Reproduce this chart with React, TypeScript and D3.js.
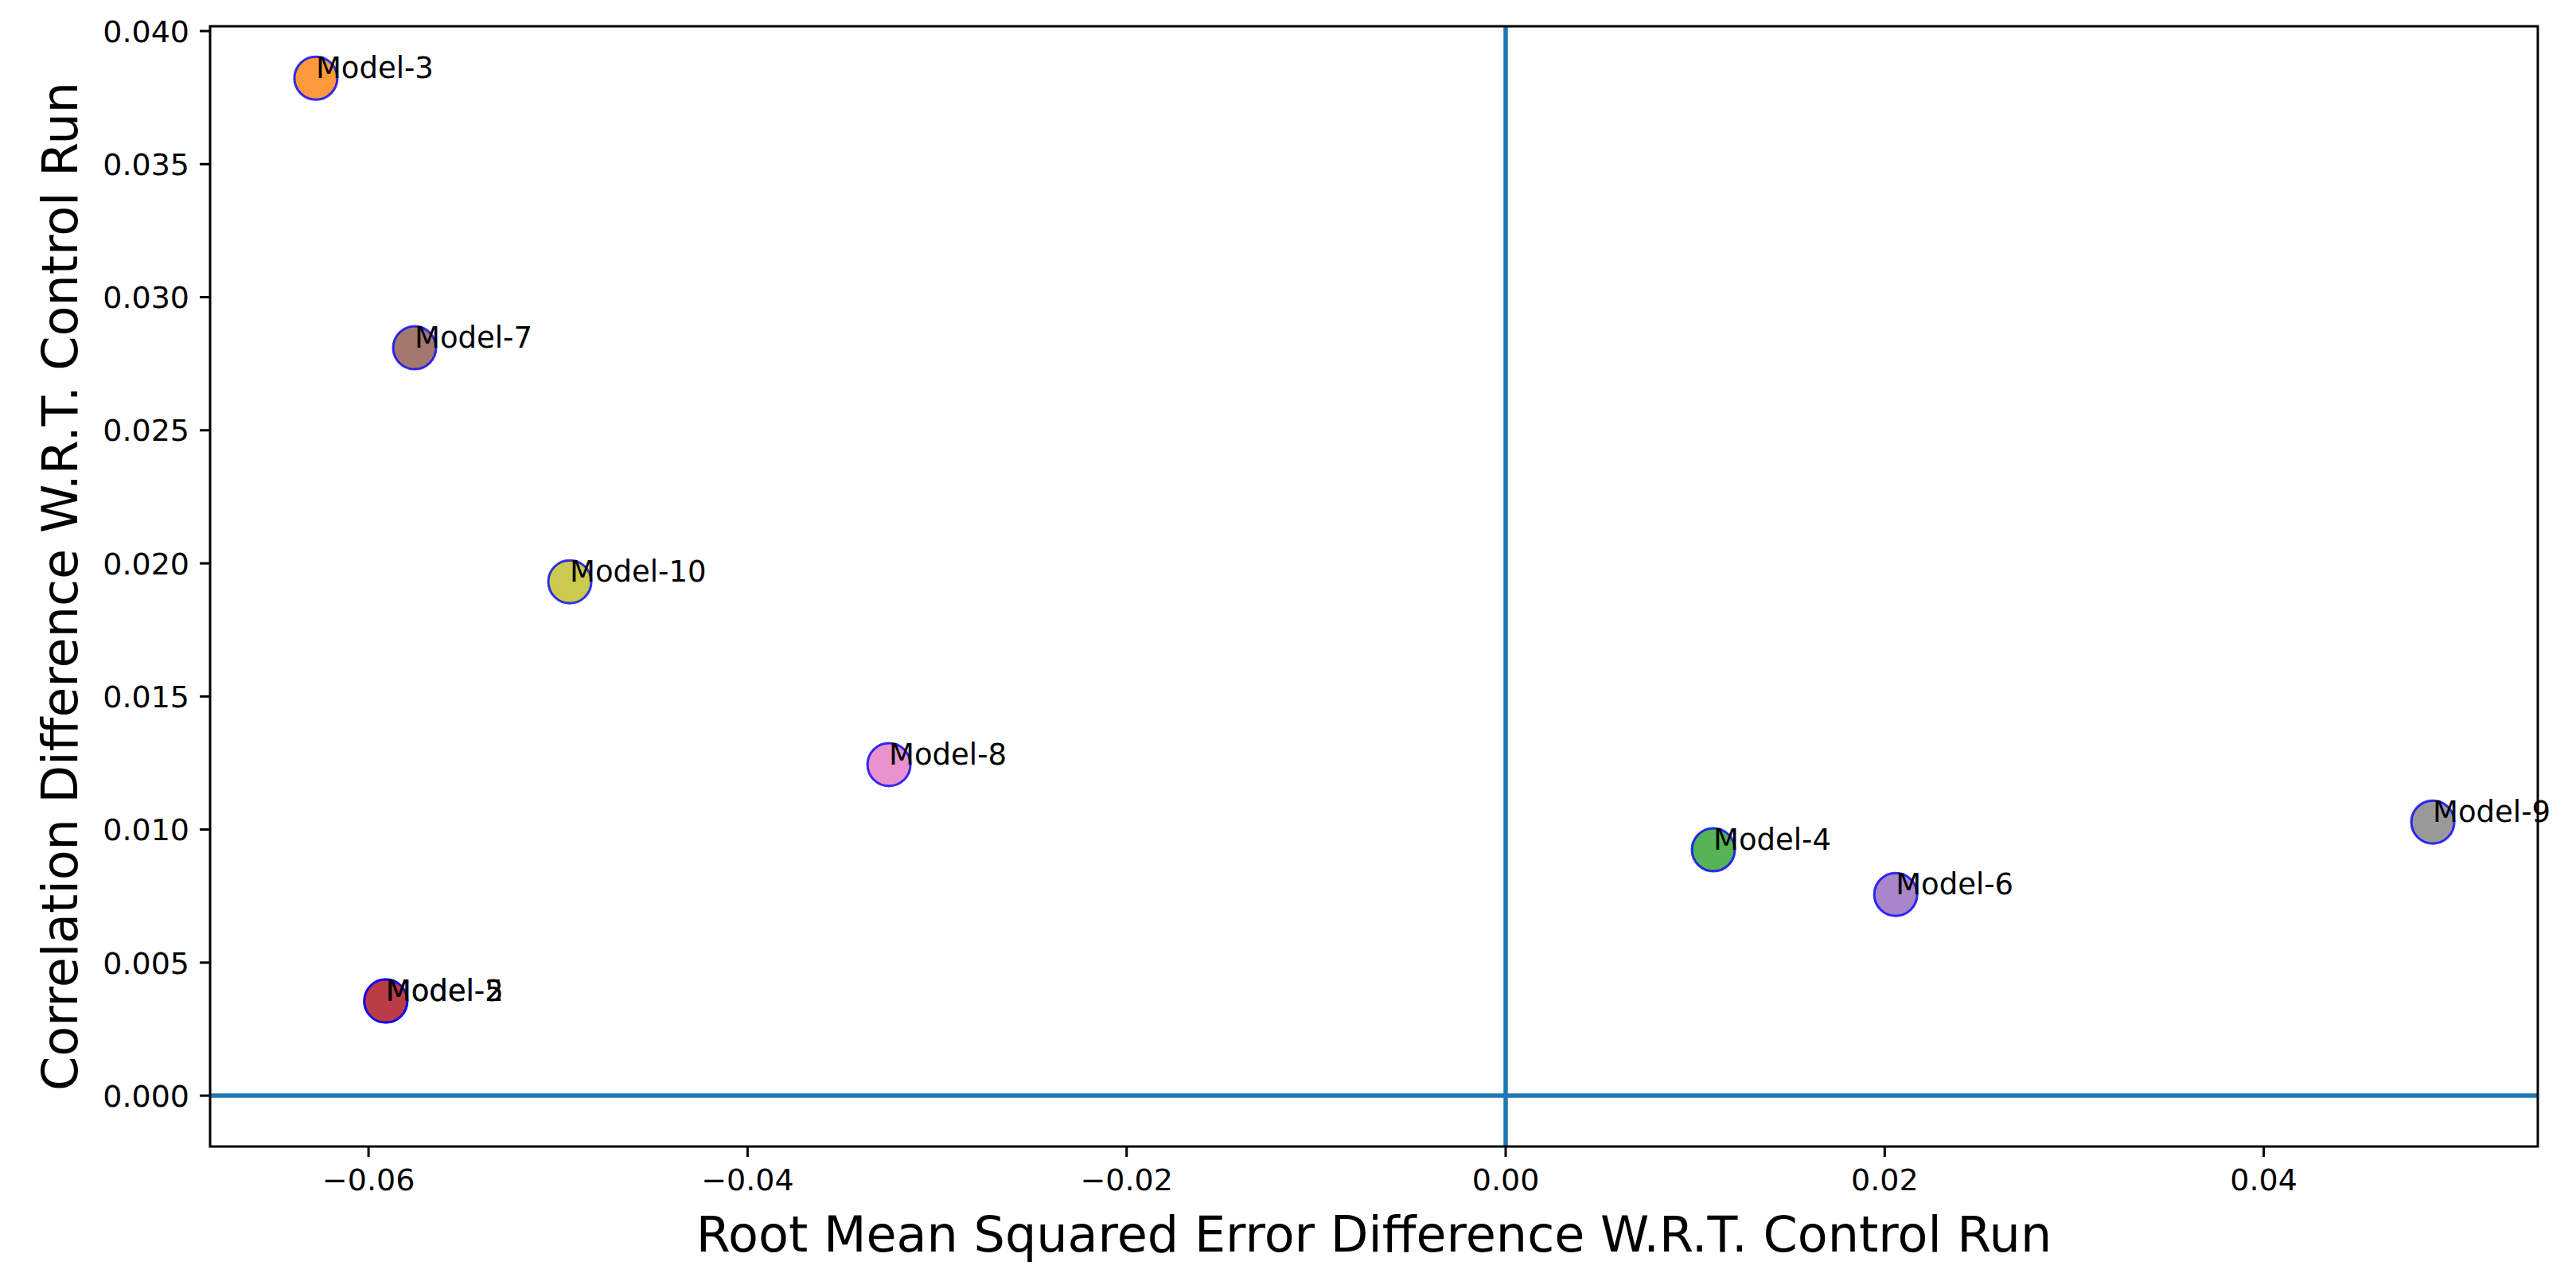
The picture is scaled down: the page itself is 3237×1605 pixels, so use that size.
import React from "react";
import * as d3 from "d3";

const models = ["Model-2", "Model-3", "Model-4", "Model-5", "Model-6", "Model-7", "Model-8", "Model-9", "Model-10"];
const rmseDiff = [-0.05909, -0.06278, 0.01096, -0.05909, 0.02058, -0.05757, -0.03254, 0.04892, -0.04938];
const corrDiff = [0.003557, 0.03823, 0.00924, 0.003557, 0.00756, 0.0281, 0.01244, 0.01028, 0.01931];
const pointColors = ["#1f77b4", "#ff7f0e", "#2ca02c", "#d62728", "#9467bd", "#8c564b", "#e377c2", "#7f7f7f", "#bcbd22"];
const xTicks = [-0.06, -0.04, -0.02, 0.0, 0.02, 0.04];
const yTicks = [0.0, 0.005, 0.01, 0.015, 0.02, 0.025, 0.03, 0.035, 0.04];
const xDomain = [-0.06836, 0.05446];
const yDomain = [-0.00191, 0.04018];
const xLabel = "Root Mean Squared Error Difference W.R.T. Control Run";
const yLabel = "Correlation Difference W.R.T. Control Run";

const W = 3237;
const H = 1605;
const L = 264, R = 3189, T = 33, B = 1441;
const FONT = "DejaVu Sans";

export default function App() {
  const x = d3.scaleLinear().domain(xDomain).range([L, R]);
  const y = d3.scaleLinear().domain(yDomain).range([B, T]);
  const fmtX = (v: number) => (v < 0 ? "\u2212" : "") + d3.format(".2f")(Math.abs(v));
  const fmtY = (v: number) => d3.format(".3f")(v);
  const tickLen = 13;
  const tickFont = 38;
  return (
    <svg width={W} height={H} style={{ position: "absolute", left: 0, top: 0, background: "#fff" }} fontFamily={FONT}>
      <rect x={0} y={0} width={W} height={H} fill="#fff" />
      {/* zero lines */}
      <line x1={L} x2={R} y1={y(0)} y2={y(0)} stroke="#1f77b4" strokeWidth={5.5} />
      <line x1={x(0)} x2={x(0)} y1={T} y2={B} stroke="#1f77b4" strokeWidth={5.5} />
      {/* points */}
      {models.map((m, i) => (
        <circle key={m} cx={x(rmseDiff[i])} cy={y(corrDiff[i])} r={27}
          fill={pointColors[i]} fillOpacity={0.8} stroke="#0000ff" strokeOpacity={0.8} strokeWidth={3} />
      ))}
      {/* spines */}
      <rect x={L} y={T} width={R - L} height={B - T} fill="none" stroke="#000" strokeWidth={3} />
      {/* x ticks */}
      {xTicks.map((t) => (
        <g key={"x" + t}>
          <line x1={x(t)} x2={x(t)} y1={B} y2={B + tickLen} stroke="#000" strokeWidth={3} />
          <text x={x(t)} y={B + tickLen + 13 + 0.76 * tickFont} textAnchor="middle" fontSize={tickFont}>{fmtX(t)}</text>
        </g>
      ))}
      {/* y ticks */}
      {yTicks.map((t) => (
        <g key={"y" + t}>
          <line x1={L - tickLen} x2={L} y1={y(t)} y2={y(t)} stroke="#000" strokeWidth={3} />
          <text x={L - tickLen - 13} y={y(t)} dy="0.36em" textAnchor="end" fontSize={tickFont}>{fmtY(t)}</text>
        </g>
      ))}
      {/* annotations */}
      {models.map((m, i) => (
        <text key={"t" + m} x={x(rmseDiff[i])} y={y(corrDiff[i])} fontSize={37}>{m}</text>
      ))}
      {/* axis labels */}
      <text x={(L + R) / 2} y={1573} textAnchor="middle" fontSize={62}>{xLabel}</text>
      <text transform={`translate(97, ${(T + B) / 2}) rotate(-90)`} textAnchor="middle" fontSize={62}>{yLabel}</text>
    </svg>
  );
}
